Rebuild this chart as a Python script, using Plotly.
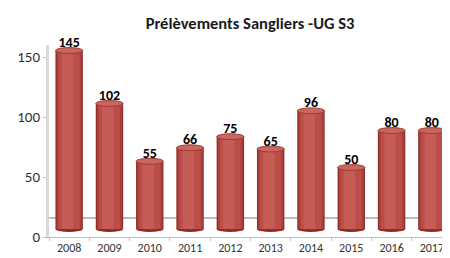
import plotly.graph_objects as go

years = ["2008", "2009", "2010", "2011", "2012", "2013", "2014", "2015", "2016", "2017"]
values = [145, 102, 55, 66, 75, 65, 96, 50, 80, 80]
title_text = "Prélèvements Sangliers -UG S3"
y_ticks = [0, 50, 100, 150]

FONT = "Carlito, 'Liberation Sans Narrow', 'Liberation Sans', Arial, sans-serif"
xs = list(range(len(years)))

fig = go.Figure()

# invisible trace so the main (labelled) y axis is drawn
fig.add_trace(go.Scatter(x=xs, y=[None] * len(xs), mode="markers", yaxis="y",
                         hoverinfo="skip", showlegend=False))

# cylinder body built from layered bars (dark edge -> light highlight)
layers = [
    (0.68, "#8F2D2A", None),
    (0.62, "#AC403B", None),
    (0.52, "#BC4E49", None),
    (0.28, "#C65C56", -0.18),
]
for w, c, off in layers:
    kw = dict(offset=off) if off is not None else {}
    fig.add_trace(go.Bar(x=xs, y=values, width=w, marker=dict(color=c, line=dict(width=0)),
                         yaxis="y2", hoverinfo="skip", showlegend=False, **kw))

# data labels
fig.add_trace(go.Scatter(x=xs, y=values, mode="text", text=["<b>%d</b>" % v for v in values],
                         textposition="top center", yaxis="y2", cliponaxis=False,
                         textfont=dict(family=FONT, size=14, color="#000000"),
                         hoverinfo="skip", showlegend=False))

shapes = []
# floor back edge
shapes.append(dict(type="line", xref="paper", x0=0, x1=1, yref="y2", y0=9, y1=9,
                   line=dict(color="#A6A6A6", width=1.5), layer="below"))
for x, v in zip(xs, values):
    # rounded bottom
    shapes.append(dict(type="circle", xref="x", yref="y2", x0=x - 0.34, x1=x + 0.34,
                       y0=-2.4, y1=2.4, fillcolor="#8F2D2A", line=dict(width=0), layer="below"))
    # top cap
    shapes.append(dict(type="circle", xref="x", yref="y2", x0=x - 0.34, x1=x + 0.34,
                       y0=v - 2.4, y1=v + 2.4, fillcolor="#C96660",
                       line=dict(color="#A03A36", width=1), layer="above"))

fig.update_layout(
    width=442, height=250,
    margin=dict(l=41, r=0, t=37, b=21, autoexpand=False),
    paper_bgcolor="white", plot_bgcolor="white",
    barmode="overlay",
    title=dict(text="<b>" + title_text + "</b>", x=0.5475, xanchor="center",
               y=0.94, yanchor="middle",
               font=dict(family=FONT, size=16.5, color="#1A1A1A")),
    xaxis=dict(range=[-0.5, 9.45], tickmode="array", tickvals=xs, ticktext=years,
               showline=True, linecolor="#BFBFBF", linewidth=1, ticks="",
               showgrid=False, zeroline=False, automargin=False,
               tickfont=dict(family=FONT, size=12, color="#333333"),
               minor=dict(ticks="outside", tick0=-0.5, dtick=1, ticklen=3, tickcolor="#BFBFBF")),
    yaxis=dict(range=[0, 160], tickvals=y_ticks, showline=True, linecolor="#D9D9D9",
               linewidth=3, ticks="outside", ticklen=3, tickcolor="#BFBFBF",
               showgrid=False, zeroline=False, automargin=False,
               tickfont=dict(family=FONT, size=15, color="#333333")),
    yaxis2=dict(range=[-6.5, 149.5], overlaying="y", visible=False, automargin=False),
    shapes=shapes,
)

fig.write_html("out.html")
